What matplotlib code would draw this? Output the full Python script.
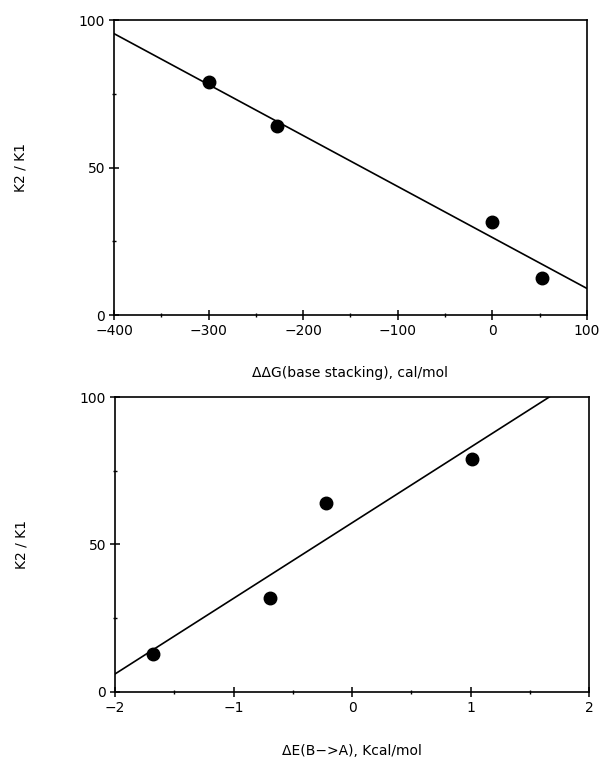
"""
K2/K1 versus base stacking free energy and B->A transition energy.
"""
import matplotlib
matplotlib.use("Agg")
import matplotlib.pyplot as plt
from matplotlib.ticker import MultipleLocator

# top panel: ddG(base stacking) vs K2/K1
dg_x = [-300, -228, 0, 52]
dg_y = [79, 64, 31.5, 12.5]
dg_fit_x = [-400, 100]
dg_fit_y = [95.4, 9.0]

# bottom panel: dE(B->A) vs K2/K1
de_x = [-1.68, -0.69, -0.22, 1.01]
de_y = [13, 32, 64.2, 79]
de_fit_x = [-2, 1.665]
de_fit_y = [6.1, 100]

plt.rcParams['font.family'] = ['DejaVu Sans']
plt.rcParams['font.size'] = 10

fig = plt.figure(figsize=(6.04, 7.62), dpi=100)
ax1 = fig.add_axes([0.1887, 0.5866, 0.7831, 0.3871])
ax2 = fig.add_axes([0.1904, 0.0919, 0.7848, 0.3871])


def style(ax, xmaj, xmin):
    ax.xaxis.set_major_locator(MultipleLocator(xmaj))
    ax.xaxis.set_minor_locator(MultipleLocator(xmin))
    ax.yaxis.set_major_locator(MultipleLocator(50))
    ax.yaxis.set_minor_locator(MultipleLocator(25))
    ax.tick_params(which='major', direction='inout', length=7, width=1.1,
                   labelsize=10, pad=3)
    ax.tick_params(which='minor', direction='inout', length=3, width=1.0)
    for s in ax.spines.values():
        s.set_linewidth(1.2)
    ax.set_ylim(0, 100)
    ax.set_ylabel("K2 / K1", fontsize=10, labelpad=37)


ax1.plot(dg_fit_x, dg_fit_y, color='black', lw=1.2)
ax1.plot(dg_x, dg_y, 'o', color='black', markersize=9)
ax1.set_xlim(-400, 100)
style(ax1, 100, 50)
ax1.set_xlabel("ΔΔG(base stacking), cal/mol", fontsize=10, labelpad=20)

ax2.plot(de_fit_x, de_fit_y, color='black', lw=1.2)
ax2.plot(de_x, de_y, 'o', color='black', markersize=9)
ax2.set_xlim(-2, 2)
style(ax2, 1, 0.5)
ax2.set_xlabel("ΔE(B−>A), Kcal/mol", fontsize=10, labelpad=21)

fig.savefig("out.png", dpi=100)
plt.close(fig)
